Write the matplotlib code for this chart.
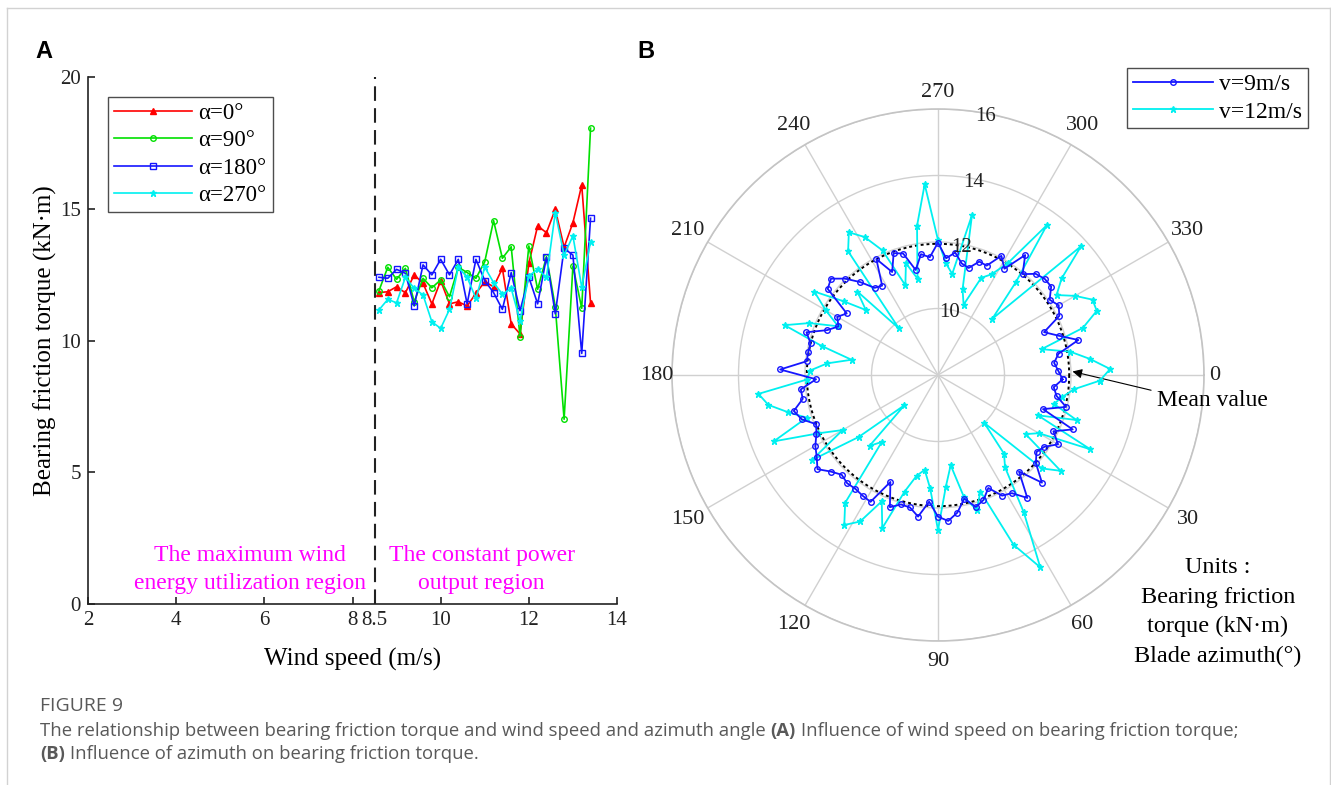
import numpy as np
import matplotlib
matplotlib.use("Agg")
import matplotlib.pyplot as plt
from matplotlib.lines import Line2D

plt.rcParams['font.family'] = ['Liberation Serif', 'DejaVu Serif']

W, H = 1331, 785

# ---- (A) bearing friction torque vs wind speed ----
wind_speed = [8.6, 8.8, 9.0, 9.2, 9.4, 9.6, 9.8, 10.0, 10.2, 10.4, 10.6, 10.8, 11.0,
              11.2, 11.4, 11.6, 11.8, 12.0, 12.2, 12.4, 12.6, 12.8, 13.0, 13.2, 13.4]
torque_a0 = [11.82, 11.85, 12.04, 11.81, 12.49, 12.17, 11.39, 12.27, 11.39, 11.47, 11.31, 11.79, 12.23,
             12.04, 12.74, 10.63, 10.25, 12.93, 14.35, 14.09, 14.98, 13.54, 14.47, 15.90, 11.43]
torque_a90 = [11.89, 12.78, 12.32, 12.74, 11.47, 12.36, 12.00, 12.30, 11.66, 12.78, 12.58, 12.36, 12.99,
              14.55, 13.12, 13.56, 10.14, 13.59, 11.94, 13.18, 11.28, 7.01, 12.83, 11.22, 18.06]
torque_a180 = [12.40, 12.36, 12.70, 12.55, 11.31, 12.87, 12.49, 13.08, 12.49, 13.08, 11.39, 13.08, 12.27,
               11.82, 11.18, 12.58, 11.13, 12.40, 11.39, 13.16, 11.01, 13.50, 13.24, 9.51, 14.64]
torque_a270 = [11.16, 11.56, 11.43, 12.40, 11.98, 11.73, 10.71, 10.46, 11.18, 12.78, 12.40, 11.60, 12.78,
               12.20, 11.76, 11.98, 10.75, 12.45, 12.70, 12.40, 14.85, 13.24, 13.97, 12.02, 13.75]
a_labels = ['α=0°', 'α=90°', 'α=180°', 'α=270°']
split_speed = 8.5

# ---- (B) bearing friction torque vs blade azimuth ----
azimuth = [2, 6, 10, 14, 18, 22, 26, 30, 34, 38, 42, 46, 50, 54, 58, 62, 66, 70,
           74, 78, 82, 86, 90, 94, 98, 102, 106, 110, 114, 118, 122, 126, 130, 134, 138, 142,
           146, 150, 154, 158, 162, 166, 170, 174, 178, 182, 186, 190, 194, 198, 202, 206, 210, 214,
           218, 222, 226, 230, 234, 238, 242, 246, 250, 254, 258, 262, 266, 270, 274, 278, 282, 286,
           290, 294, 298, 302, 306, 310, 314, 318, 322, 326, 330, 334, 338, 342, 346, 350, 354, 358]
torque_9ms = [11.75, 11.50, 11.62, 11.97, 11.32, 12.37, 11.86, 12.17, 11.86, 11.76, 11.96, 12.50,
              11.79, 12.57, 12.19, 12.11, 11.72, 12.00, 12.13, 11.80, 12.18, 12.40, 12.26, 11.82,
              12.30, 12.07, 12.05, 12.23, 11.52, 12.32, 12.28, 12.23, 12.25, 12.17, 12.34, 12.60,
              12.40, 12.26, 12.07, 11.95, 12.31, 12.47, 12.13, 12.15, 11.67, 12.75, 11.97, 11.96,
              11.95, 12.16, 11.60, 11.33, 11.50, 11.31, 12.21, 12.33, 12.03, 11.65, 11.24, 11.17,
              11.95, 11.39, 11.90, 11.80, 11.23, 11.67, 11.55, 11.98, 11.52, 11.72, 11.43, 11.35,
              11.63, 11.60, 12.06, 11.77, 12.46, 11.96, 12.23, 12.32, 12.32, 12.05, 12.19, 12.06,
              11.44, 11.82, 12.35, 11.68, 11.51, 11.62]
torque_12ms = [12.87, 12.11, 11.80, 11.59, 12.38, 11.24, 13.10, 11.50, 11.18, 12.68, 12.20, 10.00,
               11.09, 11.43, 12.87, 14.55, 13.59, 11.73, 12.22, 11.75, 10.74, 11.37, 12.66, 11.41,
               10.88, 11.10, 11.65, 12.90, 12.16, 12.99, 13.32, 12.75, 10.63, 10.96, 9.36, 11.03,
               12.58, 11.31, 12.00, 13.33, 12.15, 12.64, 13.18, 13.43, 11.95, 11.85, 11.35, 10.64,
               11.60, 12.85, 12.17, 11.34, 11.90, 12.49, 11.60, 10.92, 11.49, 9.83, 12.60, 13.06,
               12.70, 12.10, 10.87, 11.50, 10.96, 12.53, 13.75, 12.06, 11.37, 11.07, 12.92, 10.68,
               10.25, 11.20, 11.43, 11.97, 13.57, 11.64, 10.35, 13.79, 12.72, 12.30, 12.76, 13.17,
               13.15, 12.58, 11.21, 12.04, 12.60, 13.18]
b_labels = ['v=9m/s', 'v=12m/s']
r_ticks = [8, 10, 12, 14, 16]
theta_ticks = [0, 30, 60, 90, 120, 150, 180, 210, 240, 270, 300, 330]

fig = plt.figure(figsize=(W / 100, H / 100), dpi=100)

# thin frame around the figure
frame_kw = dict(transform=fig.transFigure, color='#d2d2d2', lw=1)
fig.add_artist(Line2D([7 / W, 7 / W], [0, 1 - 8 / H], **frame_kw))
fig.add_artist(Line2D([7 / W, 1330 / W], [1 - 8 / H, 1 - 8 / H], **frame_kw))
fig.add_artist(Line2D([1330 / W, 1330 / W], [0, 1 - 8 / H], **frame_kw))

# ---------------- panel A ----------------
ax = fig.add_axes([88 / W, 1 - 604 / H, 529 / W, 527 / H])
ax.plot(wind_speed, torque_a0, color='#ff0000', lw=1.2, marker='^', ms=4, label=a_labels[0])
ax.plot(wind_speed, torque_a90, color='#00e000', lw=1.2, marker='o', ms=4, mfc='none', label=a_labels[1])
ax.plot(wind_speed, torque_a180, color='#1515ff', lw=1.2, marker='s', ms=4, mfc='none', label=a_labels[2])
ax.plot(wind_speed, torque_a270, color='#00f0f0', lw=1.2, marker='*', ms=5, label=a_labels[3])
ax.axvline(split_speed, color='#222222', lw=1.5, ls=(0, (7, 3.5)))

ax.set_xlim(2, 14)
ax.set_ylim(0, 20)
ax.set_xticks([2, 4, 6, 8, 8.5, 10, 12, 14])
ax.set_xticklabels(['2', '4', '6', '8', '8.5', '10', '12', '14'])
ax.set_yticks([0, 5, 10, 15, 20])
ax.spines['top'].set_visible(False)
ax.spines['right'].set_visible(False)
for s in ['left', 'bottom']:
    ax.spines[s].set_linewidth(1.2)
    ax.spines[s].set_color('#222222')
ax.tick_params(direction='in', length=5, width=1.2, labelsize=15, pad=5, colors='#222222')
ax.set_xlabel('Wind speed (m/s)', fontsize=18, labelpad=13)
ax.set_ylabel('Bearing friction torque (kN·m)', fontsize=18, labelpad=2)

ax.text(5.67, 1.3, 'The maximum wind\nenergy utilization region', color='#ff00ff',
        fontsize=17, ha='center', va='center', linespacing=1.45)
ax.text(10.93, 1.3, 'The constant power\noutput region', color='#ff00ff',
        fontsize=17, ha='center', va='center', linespacing=1.45)

leg = ax.legend(loc='upper left', bbox_to_anchor=(0.037, 0.962), borderaxespad=0,
                fontsize=16.5, handlelength=3.4, handletextpad=0.3, labelspacing=0.27,
                borderpad=0.27, fancybox=False, edgecolor='#222222')
leg.get_frame().set_linewidth(1.0)

# ---------------- panel B ----------------
axp = fig.add_axes([672 / W, 1 - 641 / H, 532 / W, 532 / H], projection='polar')
axp.set_theta_zero_location('E')
axp.set_theta_direction(-1)

theta = np.deg2rad(azimuth + azimuth[:1])
r9 = torque_9ms + torque_9ms[:1]
r12 = torque_12ms + torque_12ms[:1]
mean_torque = np.mean(torque_9ms)

circle_t = np.linspace(0, 2 * np.pi, 361)
axp.plot(circle_t, np.full_like(circle_t, mean_torque), color='k', lw=1.4, ls=(0, (1.5, 1.5)), zorder=3)
axp.plot(theta, r12, color='#00f0f0', lw=1.3, marker='*', ms=5, label=b_labels[1], zorder=4)
axp.plot(theta, r9, color='#1515ff', lw=1.3, marker='o', ms=4, mfc='none', label=b_labels[0], zorder=5)

axp.set_rlim(8, 16)
axp.set_rticks(r_ticks[1:])
axp.set_yticklabels([])
for rv in r_ticks:
    axp.text(np.deg2rad(280.5), rv - 0.1, str(rv), fontsize=15, ha='center', va='center',
             color='#222222', zorder=6)

# azimuth labels sit a little further out on the diagonals
label_radius = {0: 16.33, 90: 16.62, 180: 16.45, 270: 16.5}
axp.set_thetagrids(theta_ticks, [''] * len(theta_ticks))
for t in theta_ticks:
    axp.text(np.deg2rad(t), label_radius.get(t, 16.68), str(t), fontsize=16, ha='center',
             va='center', color='#222222', clip_on=False)
axp.grid(color='#d0d0d0', lw=1)
axp.spines['polar'].set_color('#c4c4c4')
axp.spines['polar'].set_linewidth(1.2)

handles, labels = axp.get_legend_handles_labels()
legb = fig.legend(handles[::-1], labels[::-1], loc='upper left',
                  bbox_to_anchor=(1127 / W, 1 - 68 / H), borderaxespad=0,
                  fontsize=17, handlelength=3.4, handletextpad=0.25, labelspacing=0.25,
                  borderpad=0.24, fancybox=False, edgecolor='#222222')
legb.get_frame().set_linewidth(1.0)

axp.annotate('Mean value', xy=(np.deg2rad(358.5), mean_torque + 0.1), xycoords='data',
             xytext=(1212 / W, 1 - 401 / H), textcoords='figure fraction',
             fontsize=17, ha='center', va='center',
             arrowprops=dict(arrowstyle='-|>', color='k', lw=0.8, mutation_scale=14,
                             shrinkA=2, shrinkB=0, relpos=(0.0, 0.95)))

fig.text(1218 / W, 1 - 612 / H, 'Units :\nBearing friction\ntorque (kN·m)\nBlade azimuth(°)',
         fontsize=17.5, ha='center', va='center', multialignment='center', linespacing=1.52)

# panel letters
fig.text(35 / W, 1 - 52 / H, 'A', fontsize=17, weight='bold', family='Liberation Sans', va='center')
fig.text(637 / W, 1 - 52 / H, 'B', fontsize=17, weight='bold', family='Liberation Sans', va='center')

# ---------------- caption ----------------
cap_color = '#595959'
fig.text(40 / W, 1 - 711 / H, 'FIGURE 9', fontsize=14, family='Open Sans', color=cap_color, va='baseline')

renderer = fig.canvas.get_renderer()


def caption_line(parts, x0, y_base, size=13.3):
    x = x0
    space = size * 0.26 * 100 / 72
    for txt, bold in parts:
        t = fig.text(x / W, 1 - y_base / H, txt, fontsize=size, family='Open Sans', color=cap_color,
                     weight='bold' if bold else 'normal', va='baseline')
        x = t.get_window_extent(renderer).x1 + space


caption_line([('The relationship between bearing friction torque and wind speed and azimuth angle', False),
              ('(A)', True),
              ('Influence of wind speed on bearing friction torque;', False)], 40, 736)
caption_line([('(B)', True), ('Influence of azimuth on bearing friction torque.', False)], 40, 759)

fig.savefig('out.png', dpi=100)
